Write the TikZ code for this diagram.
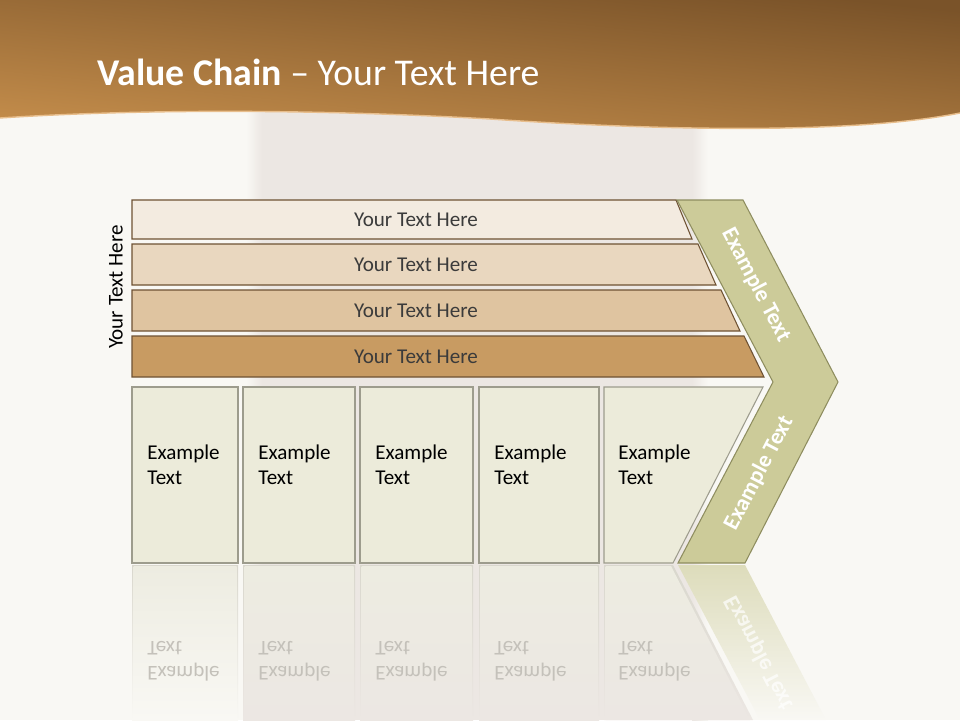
\documentclass[tikz,border=0pt]{standalone}
\usepackage{fontspec}
\setmainfont{Carlito}
\usetikzlibrary{calc, positioning}
\definecolor{bgcol}{HTML}{F9F8F4}
\definecolor{pillar}{HTML}{ECE7E3}
\definecolor{hdrdark}{HTML}{7A5329}
\definecolor{hdrlight}{HTML}{C48D4B}
\definecolor{hdredge}{HTML}{E8BE8C}
\definecolor{barline}{HTML}{6E5233}
\definecolor{barA}{HTML}{F3EBE0}
\definecolor{barB}{HTML}{E9D7BF}
\definecolor{barC}{HTML}{DFC4A0}
\definecolor{barD}{HTML}{C89B62}
\definecolor{chevfill}{HTML}{CCCB99}
\definecolor{chevline}{HTML}{8E8D5F}
\definecolor{boxfill}{HTML}{ECEBDA}
\definecolor{boxline}{HTML}{9D9C8D}
\definecolor{refl}{HTML}{EDECE1}
\definecolor{reflline}{HTML}{D9D7CD}
\definecolor{chrefl}{HTML}{DDDCBB}
\definecolor{refltext}{HTML}{C4C1BA}
\definecolor{bartext}{HTML}{3B3B3B}
\tikzset{
  bar/.style={draw=barline, line width=0.6pt},
  chev/.style={draw=chevline, fill=chevfill, line width=0.6pt},
  exbox/.style={draw=boxline, fill=boxfill, line width=0.6pt},
  bartxt/.style={text=bartext, inner sep=0pt, font=\fontsize{12}{14.5}\selectfont},
  boxtxt/.style={anchor=west, align=left, inner sep=0pt, text=black, font=\fontsize{12}{14.5}\selectfont},
  refltxt/.style={boxtxt, text=refltext, yscale=-1},
  chtxt/.style={text=white, inner sep=0pt, font=\bfseries\fontsize{13}{15}\selectfont}
}
\begin{document}
\begin{tikzpicture}[x=0.02cm, y=-0.02cm]
  % page, pillar and header
  \fill[bgcol] (0,0) rectangle (960,720);
  \useasboundingbox (0,0) rectangle (960,720);
  \fill[pillar] (262,100) rectangle (692,720);
  \shade[left color=bgcol, right color=pillar] (246,100) rectangle (262,720);
  \shade[left color=pillar, right color=bgcol] (692,100) rectangle (708,720);
  \shade[top color=hdrdark, bottom color=hdrlight, shading angle=-6] (0,0) -- (960,0) -- (960,113)
    .. controls (850,135) and (650,130) .. (490,119) .. controls (300,108) and (120,110) .. (0,118) -- cycle;
  \draw[hdredge, line width=0.8pt] (960,113) .. controls (850,135) and (650,130) .. (490,119)
    .. controls (300,108) and (120,110) .. (0,118);
  \node[anchor=base west, inner sep=0pt, text=white, font=\fontsize{21.5}{26}\selectfont] (title) at (97,85)
    {\textbf{Value Chain} -- Your Text Here};
  % the four bars
  \foreach \n/\yt/\yb/\xa/\xb/\col in {1/200/239/676/692/barA, 2/244/285/698/716/barB,
      3/290/331/721/740/barC, 4/336/377/744/764/barD}{
    \draw[bar, fill=\col] (132,\yt) -- (\xa,\yt) -- (\xb,\yb) -- (132,\yb) -- cycle;
    \node[bartxt] (bt\n) at (416,{(\yt+\yb)/2}) {Your Text Here};
  }
  \node[bartxt, text=black, rotate=90] (side) at (116,287) {Your Text Here};
  % chevron
  \draw[chev] (677,200) -- (743,200) -- (838,382) -- (745,563) -- (678,563) -- (773,382) -- cycle;
  \node[chtxt, rotate=-62.4] (ch1) at (756,285) {Example Text};
  \node[chtxt, rotate=62.4] (ch2) at (759,473) {Example Text};
  % boxes
  \foreach \n/\xl/\xr in {1/132/238, 2/243/355, 3/360/473, 4/479/599}{
    \draw[exbox] (\xl,387) rectangle (\xr,563);
    \node[boxtxt] (ex\n) at (\xl+15,465) {Example\\Text};
  }
  \draw[exbox] (604,387) -- (763,387) -- (673,563) -- (604,563) -- cycle;
  \node[boxtxt] (ex5) at (618,465) {Example\\Text};
  % reflection
  \foreach \n/\xl/\xr/\bot in {1/132/238/bgcol, 2/243/355/pillar, 3/360/473/pillar, 4/479/599/pillar}{
    \shade[top color=reflline, bottom color=\bot] (\xl,565) rectangle (\xr,720);
    \shade[top color=refl, bottom color=\bot] (\xl+1.5,566) rectangle (\xr-1.5,720);
    \node[refltxt] (rx\n) at (\xl+15,661) {Example\\Text};
  }
  \shade[top color=reflline, bottom color=pillar] (604,565) -- (673,565) -- (753,720) -- (604,720) -- cycle;
  \shade[top color=refl, bottom color=pillar] (605.5,566) -- (671,566) -- (750,720) -- (605.5,720) -- cycle;
  \node[refltxt] (rx5) at (618,661) {Example\\Text};
  \shade[top color=chrefl, bottom color=bgcol] (678,565) -- (745,565) -- (826,720) -- (760,720) -- cycle;
  \node[chtxt, text opacity=0.7, rotate=-62.4, yscale=-1] (rch) at (759,653) {Example Text};
\end{tikzpicture}
\end{document}
